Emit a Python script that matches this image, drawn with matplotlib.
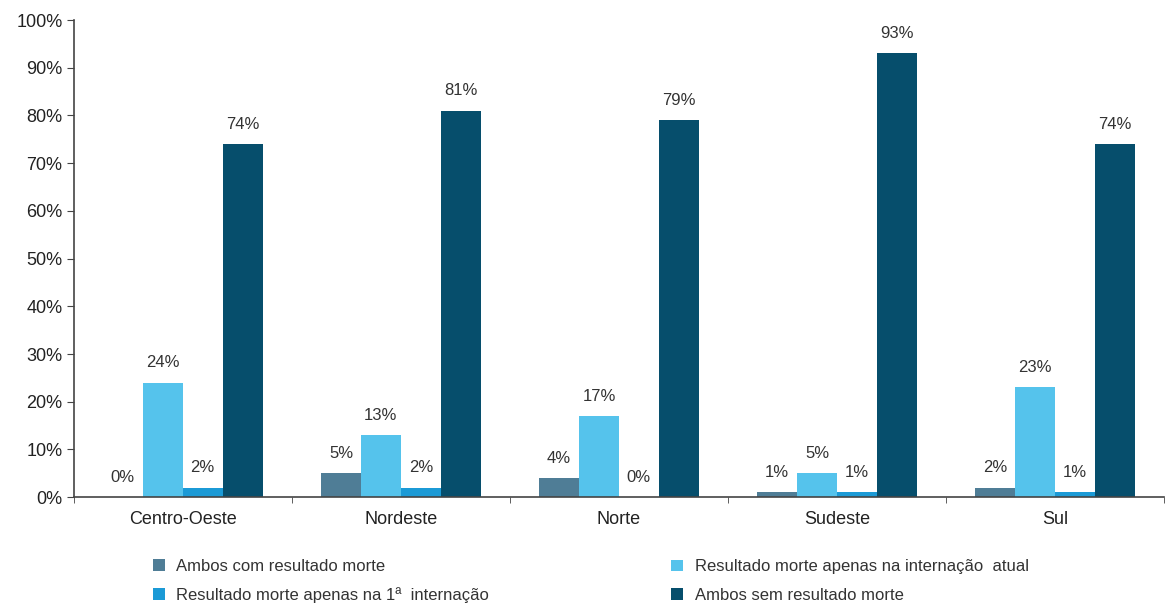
import numpy as np
import matplotlib.pyplot as plt
from matplotlib.ticker import FixedLocator

plt.rcParams['font.family'] = ['Liberation Sans', 'DejaVu Sans']

regioes = ["Centro-Oeste", "Nordeste", "Norte", "Sudeste", "Sul"]
series = ["Ambos com resultado morte",
          "Resultado morte apenas na internação  atual",
          "Resultado morte apenas na 1ª  internação",
          "Ambos sem resultado morte"]
ambos_com = [0, 5, 4, 1, 2]
morte_atual = [24, 13, 17, 5, 23]
morte_primeira = [2, 2, 0, 1, 1]
ambos_sem = [74, 81, 79, 93, 74]
cores = ["#4f7d96", "#55c3ec", "#1b9ad6", "#064e6c"]

valores = [ambos_com, morte_atual, morte_primeira, ambos_sem]

fig = plt.figure(figsize=(11.7, 6.07), dpi=100)
ax = fig.add_axes([0.063, 0.181, 0.932, 0.786])

x = np.arange(len(regioes))
w = 0.183
handles = []
for i, (vals, cor) in enumerate(zip(valores, cores)):
    pos = x + (i - 1.5) * w
    b = ax.bar(pos, vals, width=w, color=cor, label=series[i])
    handles.append(b)
    for xp, v in zip(pos, vals):
        ax.annotate(f"{v}%", (xp, v), xytext=(0, 9), textcoords="offset points",
                    ha="center", va="bottom", fontsize=12, color="#333333")

ax.set_xlim(-0.5, len(regioes) - 0.5)
ax.set_ylim(0, 100)
ax.set_yticks(range(0, 101, 10))
ax.set_yticklabels([f"{t}%" for t in range(0, 101, 10)], fontsize=13, color="#222222")
ax.set_xticks(x)
ax.set_xticklabels(regioes, fontsize=13, color="#222222")
ax.tick_params(axis="x", which="major", length=0, pad=10)
ax.xaxis.set_minor_locator(FixedLocator(np.arange(-0.5, len(regioes), 1.0)))
ax.tick_params(axis="x", which="minor", length=4, direction="out", color="#444444")
ax.tick_params(axis="y", length=5, color="#444444", pad=3)
for s in ["top", "right"]:
    ax.spines[s].set_visible(False)
for s in ["left", "bottom"]:
    ax.spines[s].set_color("#444444")
    ax.spines[s].set_linewidth(1.2)

# legenda em duas colunas, cada uma como uma legenda separada
leg_kw = dict(frameon=False, fontsize=12, handlelength=0.7, handleheight=0.7,
              handletextpad=0.7, labelspacing=0.8, borderaxespad=0)
leg1 = fig.legend(handles=[handles[0], handles[2]], loc="lower left",
                  bbox_to_anchor=(0.125, -0.004), **leg_kw)
leg2 = fig.legend(handles=[handles[1], handles[3]], loc="lower left",
                  bbox_to_anchor=(0.568, -0.004), **leg_kw)
for leg in (leg1, leg2):
    for t in leg.get_texts():
        t.set_color("#333333")

fig.savefig("out.png", dpi=100)
